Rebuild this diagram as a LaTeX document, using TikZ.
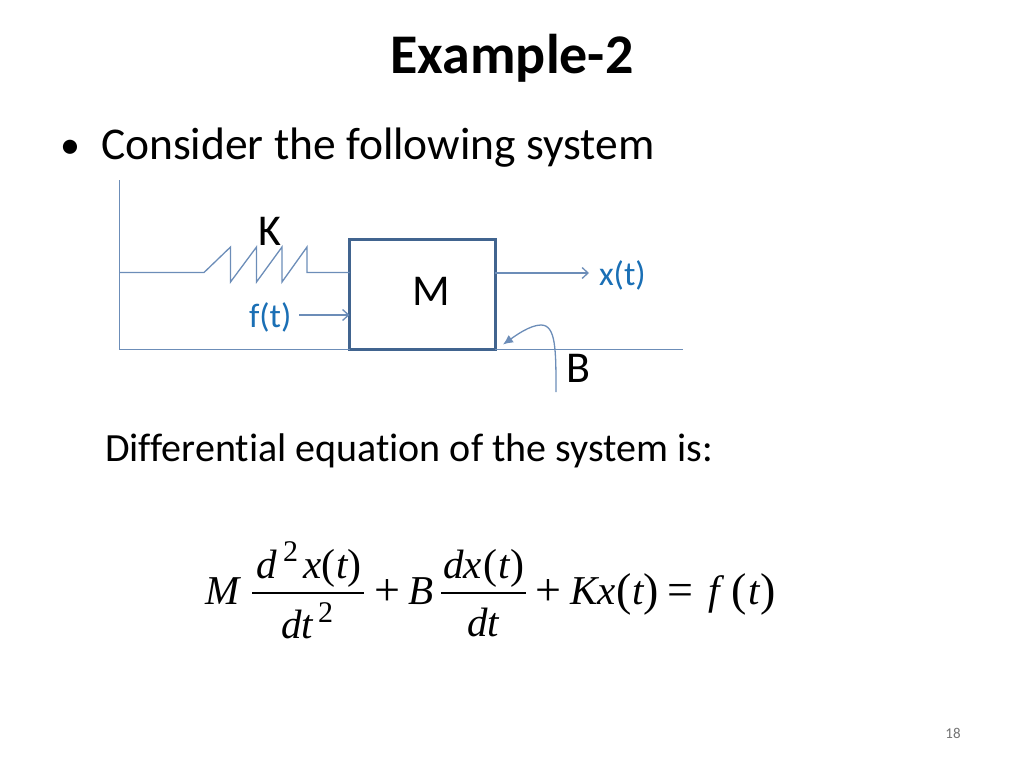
\documentclass[tikz,border=0pt]{standalone}
\usepackage{xcolor}
\usepackage{fontspec}
\usepackage{tikz}
\usetikzlibrary{arrows.meta}
\setmainfont[Ligatures=NoCommon]{Carlito}
\newfontfamily\eqfont{Liberation Serif}
\definecolor{linecol}{HTML}{6C8DB8}
\definecolor{boxcol}{HTML}{41648F}
\definecolor{labelcol}{HTML}{1A6FB5}

\begin{document}
\begin{tikzpicture}[
  x = 1pt, y = -1pt,
  every node/.style = {inner sep = 0pt, outer sep = 0pt, anchor = base west},
  line/.style = {draw = linecol, line width = 1.3pt},
  pointer/.style = {line, -{Straight Barb[length = 6pt, width = 11pt]}},
  body/.style = {font = \fontsize{40}{40}\selectfont},
  letter/.style = {font = \fontsize{44}{44}\selectfont},
  big/.style = {font = \fontsize{45.5}{45.5}\selectfont},
  tag/.style = {font = \fontsize{34}{34}\selectfont, text = labelcol},
  eq/.style = {font = \eqfont\itshape\fontsize{41}{41}\selectfont},
  eqop/.style = {font = \eqfont\fontsize{46}{46}\selectfont},
  eqnum/.style = {font = \eqfont\fontsize{42}{42}\selectfont},
  eqpar/.style = {font = \eqfont\fontsize{46}{46}\selectfont},
  eqsup/.style = {font = \eqfont\fontsize{30}{30}\selectfont}
  ]
  \useasboundingbox (0,0) rectangle (1024,768);
  \node[anchor = base, font = \bfseries\fontsize{56}{56}\selectfont] (title) at (512,73) {Example-2};
  \node[font = \fontsize{40}{40}\selectfont] (bullet) at (60,158) {•};
  \node[big] (consider) at (101,159) {Consider the following system};
  \node[body] (diffeq) at (105,461) {Differential equation of the system is:};

  % the system
  \node[draw = boxcol, line width = 3pt, minimum width = 145.5pt, minimum height = 110.5pt, anchor = north west] (mass) at (349.5,239) {};
  \node[letter] (m) at (412,305) {M};
  \node[letter] (k) at (258,245) {K};
  \node[letter] (b) at (566,382) {B};
  \node[tag] (ft) at (249,327) {f(t)};
  \node[tag] (xt) at (599,285) {x(t)};
  \coordinate (walltop) at (119.5,180);
  \coordinate (wallmid) at (119.5,272.5);
  \coordinate (wallbot) at (119.5,349.5);
  \coordinate (floorend) at (683,349.5);
  \coordinate (xend) at (589,273);
  \coordinate (ftstart) at (299,315);
  \coordinate (bstart) at (556,392);
  \coordinate (btip) at (503,344.5);
  \draw[line] (walltop) -- (wallbot) -- (mass.south west);
  \draw[line] (mass.south east) -- (floorend);
  \draw[line] (wallmid) -- (204,272.5) -- (230.5,247) -- (230.5,282) -- (256.5,247) -- (256.5,282)
    -- (282,247) -- (282,282) -- (307,247) -- (307,272.5) -- (mass.west |- wallmid);
  \draw[pointer] (mass.east |- xend) -- (xend);
  \draw[pointer] (ftstart) -- (mass.west |- ftstart);
  \draw[line, -{Latex[length = 10pt, width = 9pt]}] (bstart) .. controls (556,350) and (556,325) .. (541,325)
    .. controls (530,325) and (515,336) .. (btip);

  % the equation
  \node[eq] (eqm) at (205,604) {M};
  \node[eq] (num1a) at (256,578) {d};
  \node[eqsup] (num1b) at (283,561) {2};
  \node[eq] (num1c) at (303,578) {x};
  \node[eqnum] (num1d) at (321,578) {(};
  \node[eq] (num1e) at (336,578) {t};
  \node[eqnum] (num1f) at (347,578) {)};
  \node[eq] (den1a) at (281,638) {dt};
  \node[eqsup] (den1b) at (318,622) {2};
  \coordinate (bar1a) at (252,593);
  \coordinate (bar1b) at (364,593);
  \draw[line width = 1.4pt] (bar1a) -- (bar1b);
  \node[eqop] (plus1) at (374,605) {+};
  \node[eq] (eqb) at (408,604) {B};
  \node[eq] (num2a) at (443,578) {dx};
  \node[eqnum] (num2b) at (483,578) {(};
  \node[eq] (num2c) at (498,578) {t};
  \node[eqnum] (num2d) at (510,578) {)};
  \node[eq] (den2a) at (467,636) {dt};
  \coordinate (bar2a) at (441,593);
  \coordinate (bar2b) at (526,593);
  \draw[line width = 1.4pt] (bar2a) -- (bar2b);
  \node[eqop] (plus2) at (535,605) {+};
  \node[eq] (eqk) at (570,604) {Kx};
  \node[eqpar] (lpar3) at (616,605) {(};
  \node[eq] (t3) at (632,604) {t};
  \node[eqpar] (rpar3) at (643,605) {)};
  \node[eqop] (equals) at (667,605) {=};
  \node[eq] (eqf) at (708,604) {f};
  \node[eqpar] (lpar4) at (731,605) {(};
  \node[eq] (t4) at (748,604) {t};
  \node[eqpar] (rpar4) at (760,605) {)};

  \node[anchor = base, text = black!55, font = \fontsize{15}{15}\selectfont] (page) at (953,738) {18};
\end{tikzpicture}
\end{document}
